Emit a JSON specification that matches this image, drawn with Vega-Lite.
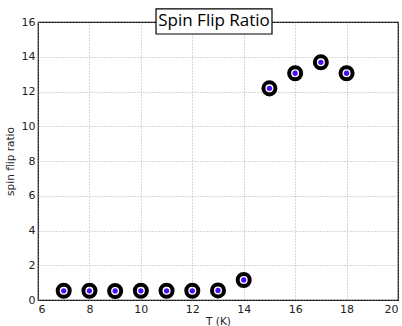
{
  "$schema": "https://vega.github.io/schema/vega-lite/v6.json",
  "width": 360,
  "height": 278,
  "autosize": {"type": "none"},
  "padding": {"left": 38, "top": 22, "right": 4, "bottom": 26},
  "background": "white",
  "config": {
    "view": {"stroke": "black", "strokeWidth": 1.2},
    "axis": {
      "labelFont": "DejaVu Sans",
      "labelFontSize": 11,
      "labelColor": "#222",
      "labelOverlap": false,
      "titleFont": "DejaVu Sans",
      "titleFontSize": 10.5,
      "titleFontWeight": "normal",
      "titleColor": "#222",
      "grid": true,
      "gridColor": "#999",
      "gridDash": [1, 2],
      "gridWidth": 0.8,
      "domain": false,
      "ticks": false,
      "labelPadding": 3
    }
  },
  "data": {
    "values": [
      {"T": 7, "ratio": 0.53},
      {"T": 8, "ratio": 0.53},
      {"T": 9, "ratio": 0.52},
      {"T": 10, "ratio": 0.53},
      {"T": 11, "ratio": 0.53},
      {"T": 12, "ratio": 0.53},
      {"T": 13, "ratio": 0.55},
      {"T": 14, "ratio": 1.15},
      {"T": 15, "ratio": 12.18},
      {"T": 16, "ratio": 13.05},
      {"T": 17, "ratio": 13.68},
      {"T": 18, "ratio": 13.05}
    ]
  },
  "layer": [
    {
      "mark": {"type": "point", "shape": "circle", "filled": false, "stroke": "black", "strokeWidth": 4, "size": 145, "opacity": 1},
      "encoding": {
        "x": {"field": "T", "type": "quantitative", "scale": {"domain": [6, 20], "nice": false}, "axis": {"values": [6, 8, 10, 12, 14, 16, 18, 20], "title": "T (K)", "titlePadding": 2}},
        "y": {"field": "ratio", "type": "quantitative", "scale": {"domain": [0, 16], "nice": false}, "axis": {"values": [0, 2, 4, 6, 8, 10, 12, 14, 16], "title": "spin flip ratio", "titlePadding": 6}}
      }
    },
    {
      "mark": {"type": "point", "shape": "circle", "filled": true, "color": "#4b10f0", "size": 28, "opacity": 1},
      "encoding": {
        "x": {"field": "T", "type": "quantitative", "axis": {"values": [6, 8, 10, 12, 14, 16, 18, 20], "title": "T (K)", "titlePadding": 2}},
        "y": {"field": "ratio", "type": "quantitative", "axis": {"values": [0, 2, 4, 6, 8, 10, 12, 14, 16], "title": "spin flip ratio", "titlePadding": 6}}
      }
    },
    {
      "data": {"values": [{"label": "Spin Flip Ratio"}]},
      "mark": {"type": "rect", "fill": "white", "stroke": "black", "strokeWidth": 1.2, "clip": false},
      "encoding": {
        "x": {"datum": 10.59, "type": "quantitative", "axis": {"values": [6, 8, 10, 12, 14, 16, 18, 20], "title": "T (K)", "titlePadding": 2}},
        "x2": {"datum": 15.1},
        "y": {"datum": 16.75, "type": "quantitative", "axis": {"values": [0, 2, 4, 6, 8, 10, 12, 14, 16], "title": "spin flip ratio", "titlePadding": 6}},
        "y2": {"datum": 15.31}
      }
    },
    {
      "data": {"values": [{"label": "Spin Flip Ratio"}]},
      "mark": {"type": "text", "font": "Open Sans", "fontSize": 17, "color": "black", "baseline": "middle", "align": "center", "clip": false},
      "encoding": {
        "x": {"datum": 12.845, "type": "quantitative", "axis": {"values": [6, 8, 10, 12, 14, 16, 18, 20], "title": "T (K)", "titlePadding": 2}},
        "y": {"datum": 16.03, "type": "quantitative", "axis": {"values": [0, 2, 4, 6, 8, 10, 12, 14, 16], "title": "spin flip ratio", "titlePadding": 6}},
        "text": {"field": "label"}
      }
    }
  ]
}
